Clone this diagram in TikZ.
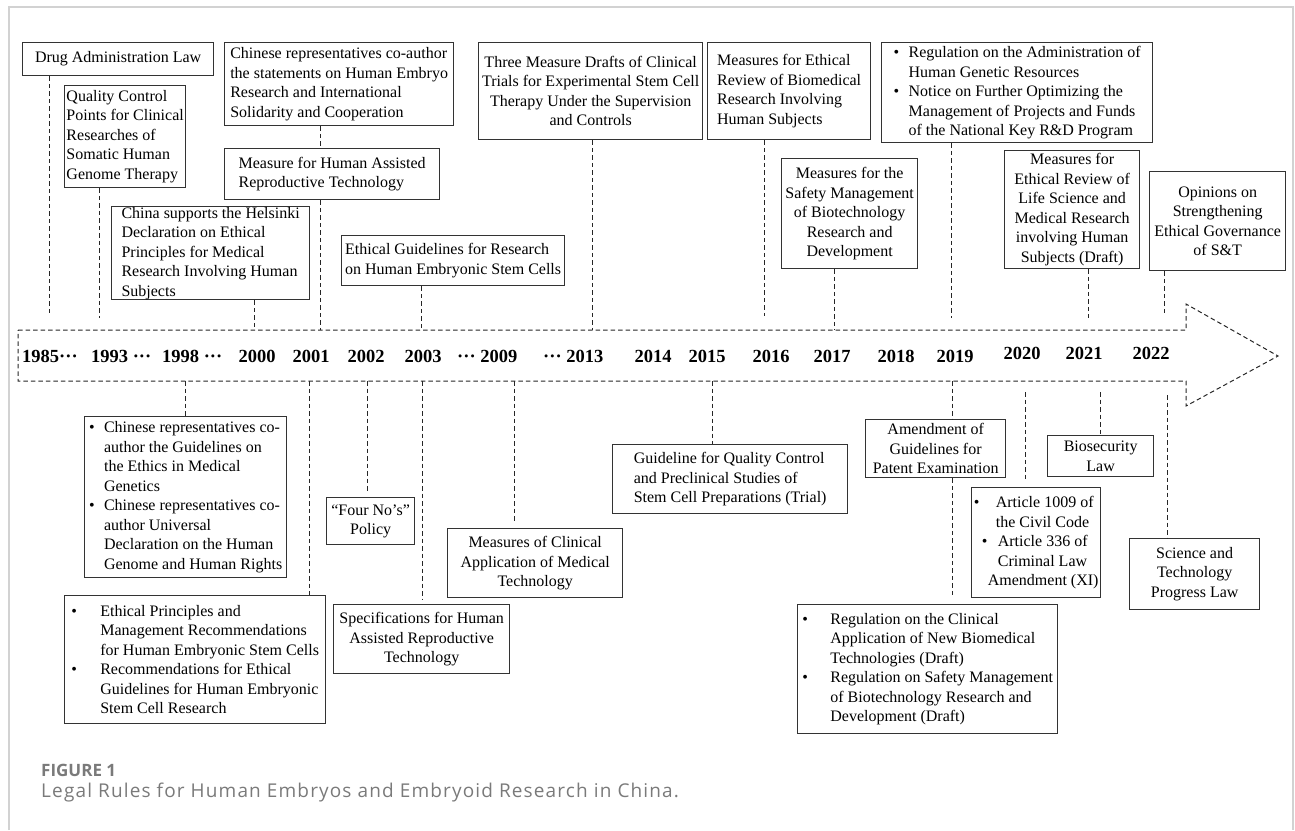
\documentclass[tikz,border=0pt]{standalone}
\usepackage{fontspec}
\setmainfont{Liberation Serif}
\newfontfamily\capfont{Open Sans}
\newfontfamily\capwidefont[LetterSpace=6]{Open Sans}
\definecolor{boxline}{HTML}{333333}
\definecolor{frameline}{HTML}{D2D2D2}
\definecolor{capgray}{HTML}{7A7A7A}
\newcommand{\bl}[1]{\makebox[#1][l]{\textbullet}}

\tikzset{
  box/.style={draw=boxline, line width=1.3pt, anchor=north west, inner sep=0pt,
    align=left, font=\fontsize{16}{19.5}\selectfont},
  cbox/.style={box, align=center},
  conn/.style={draw=black!85, line width=1pt, dash pattern=on 4.5pt off 3pt},
  year/.style={inner sep=0pt, font=\bfseries\fontsize{18.5}{20}\selectfont},
}

\begin{document}
\begin{tikzpicture}[x=1pt, y=-1pt]
    \useasboundingbox (0,0) rectangle (1295,830);
    \draw[frameline, line width=1.5pt] (9,830) -- (9,7) -- (1293,7) -- (1293,830);

    % Define timeline
    \draw[conn] (18,330) -- (1186,330) -- (1186,304) -- (1278,356)
        -- (1186,406) -- (1186,381) -- (18,381) -- cycle;
    \node[year, anchor=west] (y1985) at (22,356) {1985···};
    \node[year, anchor=west] (y1993) at (91,356) {1993 ···};
    \node[year, anchor=west] (y1998) at (162,356) {1998 ···};
    \node[year] (y2000) at (257,356) {2000};
    \node[year] (y2001) at (311,356) {2001};
    \node[year] (y2002) at (366,356) {2002};
    \node[year] (y2003) at (423,356) {2003};
    \node[year, anchor=west] (y2009) at (457,356) {··· 2009};
    \node[year, anchor=west] (y2013) at (543,356) {··· 2013};
    \node[year] (y2014) at (653,356) {2014};
    \node[year] (y2015) at (707,356) {2015};
    \node[year] (y2016) at (771,356) {2016};
    \node[year] (y2017) at (832,356) {2017};
    \node[year] (y2018) at (896,356) {2018};
    \node[year] (y2019) at (955,356) {2019};
    \node[year] (y2020) at (1022,353) {2020};
    \node[year] (y2021) at (1084,353) {2021};
    \node[year] (y2022) at (1151,353) {2022};

    % Define boxes above the timeline
    \node[box, minimum width=191pt, minimum height=33pt] (drug) at (22,42)
        {Drug Administration Law};
    \node[box, minimum width=121pt, minimum height=102pt] (qcp) at (64,85)
        {Quality Control\\Points for Clinical\\Researches of\\Somatic Human\\Genome Therapy};
    \node[box, minimum width=229pt, minimum height=83pt] (coauth) at (224,42)
        {Chinese representatives co-author\\the statements on Human Embryo\\Research and International\\Solidarity and Cooperation};
    \node[box, minimum width=215pt, minimum height=51pt] (art) at (224,148)
        {Measure for Human Assisted\\Reproductive Technology};
    \node[box, minimum width=198pt, minimum height=93pt] (helsinki) at (111,206)
        {China supports the Helsinki\\Declaration on Ethical\\Principles for Medical\\Research Involving Human\\Subjects};
    \node[box, minimum width=223pt, minimum height=50pt] (escg) at (341,235)
        {Ethical Guidelines for Research\\on Human Embryonic Stem Cells};
    \node[cbox, minimum width=224pt, minimum height=97pt] (threem) at (478,42)
        {Three Measure Drafts of Clinical\\Trials for Experimental Stem Cell\\Therapy Under the Supervision\\and Controls};
    \node[box, minimum width=163pt, minimum height=97pt] (biomed) at (707,42)
        {Measures for Ethical\\Review of Biomedical\\Research Involving\\Human Subjects};
    \node[cbox, minimum width=136pt, minimum height=110pt] (safety) at (781,158)
        {Measures for the\\Safety Management\\of Biotechnology\\Research and\\Development};
    \node[box, minimum width=271pt, minimum height=100pt] (hgr) at (881,42)
        {\bl{15pt}Regulation on the Administration of\\\hspace*{15pt}Human Genetic Resources\\\bl{15pt}Notice on Further Optimizing the\\\hspace*{15pt}Management of Projects and Funds\\\hspace*{15pt}of the National Key R\&D Program};
    \node[cbox, minimum width=135pt, minimum height=118pt] (lifesci) at (1004,150)
        {Measures for\\Ethical Review of\\Life Science and\\Medical Research\\involving Human\\Subjects (Draft)};
    \node[cbox, minimum width=136pt, minimum height=99pt] (opinions) at (1149,171)
        {Opinions on\\Strengthening\\Ethical Governance\\of S\&T};

    % Define boxes below the timeline
    \node[box, minimum width=202pt, minimum height=161pt] (genetics) at (84,416)
        {\bl{15pt}Chinese representatives co-\\\hspace*{15pt}author the Guidelines on\\\hspace*{15pt}the Ethics in Medical\\\hspace*{15pt}Genetics\\\bl{15pt}Chinese representatives co-\\\hspace*{15pt}author Universal\\\hspace*{15pt}Declaration on the Human\\\hspace*{15pt}Genome and Human Rights};
    \node[box, minimum width=261pt, minimum height=128pt] (hesc) at (64,595)
        {\bl{29pt}Ethical Principles and\\\hspace*{29pt}Management Recommendations\\\hspace*{29pt}for Human Embryonic Stem Cells\\\bl{29pt}Recommendations for Ethical\\\hspace*{29pt}Guidelines for Human Embryonic\\\hspace*{29pt}Stem Cell Research};
    \node[cbox, minimum width=88pt, minimum height=47pt] (fourno) at (326,497)
        {“Four No’s”\\Policy};
    \node[cbox, minimum width=176pt, minimum height=69pt] (spec) at (333,604)
        {Specifications for Human\\Assisted Reproductive\\Technology};
    \node[cbox, minimum width=175pt, minimum height=69pt] (clinapp) at (447,528)
        {Measures of Clinical\\Application of Medical\\Technology};
    \node[box, minimum width=235pt, minimum height=69pt] (quality) at (612,444)
        {Guideline for Quality Control\\and Preclinical Studies of\\Stem Cell Preparations (Trial)};
    \node[cbox, minimum width=140pt, minimum height=58pt] (patent) at (865,419)
        {Amendment of\\Guidelines for\\Patent Examination};
    \node[box, minimum width=129pt, minimum height=110pt] (civil) at (971,487)
        {\bl{22pt}Article 1009 of\\\hspace*{22pt}the Civil Code\\\hspace*{8pt}\bl{16pt}Article 336 of\\\hspace*{24pt}Criminal Law\\\hspace*{14pt}Amendment (XI)};
    \node[cbox, minimum width=106pt, minimum height=41pt] (biosec) at (1047,435)
        {Biosecurity\\Law};
    \node[cbox, minimum width=130pt, minimum height=71pt] (stlaw) at (1129,538)
        {Science and\\Technology\\Progress Law};
    \node[box, minimum width=260pt, minimum height=129pt] (newbio) at (797,604)
        {\bl{28pt}Regulation on the Clinical\\\hspace*{28pt}Application of New Biomedical\\\hspace*{28pt}Technologies (Draft)\\\bl{28pt}Regulation on Safety Management\\\hspace*{28pt}of Biotechnology Research and\\\hspace*{28pt}Development (Draft)};

    % Define tick points on the timeline
    \coordinate (c85) at (49,316);
    \coordinate (c93) at (99,318);
    \coordinate (c00) at (254,330);
    \coordinate (c01) at (320,330);
    \coordinate (c03) at (421,330);
    \coordinate (c13) at (592,330);
    \coordinate (c16) at (764,316);
    \coordinate (c17) at (834,330);
    \coordinate (c19) at (951,318);
    \coordinate (c21) at (1088,318);
    \coordinate (c22) at (1164,316);
    \coordinate (d98) at (185,381);
    \coordinate (d01) at (309,381);
    \coordinate (d02) at (367,381);
    \coordinate (d03) at (422,381);
    \coordinate (d09) at (514,381);
    \coordinate (d15) at (712,381);
    \coordinate (d19) at (952,381);
    \coordinate (d20) at (1025,392);
    \coordinate (d21) at (1100,392);
    \coordinate (d22) at (1167,395);

    % Define connectors
    \path[conn]
    (drug.south -| c85) edge (c85)
    (qcp.south -| c93) edge (c93)
    (coauth.south -| c01) edge (art.north -| c01)
        (art.south -| c01) edge (c01)
    (helsinki.south -| c00) edge (c00)
    (escg.south -| c03) edge (c03)
    (threem.south -| c13) edge (c13)
    (biomed.south -| c16) edge (c16)
    (safety.south -| c17) edge (c17)
    (hgr.south -| c19) edge (c19)
    (lifesci.south -| c21) edge (c21)
    (opinions.south -| c22) edge (c22)
    (d98) edge (genetics.north -| d98)
    (d01) edge (hesc.north -| d01)
    (d02) edge[shorten >=5pt] (fourno.north -| d02)
    (d03) edge[shorten >=5pt] (spec.north -| d03)
    (d09) edge[shorten >=5pt] (clinapp.north -| d09)
    (d15) edge (quality.north -| d15)
    (d19) edge (patent.north -| d19)
        (patent.south -| d19) edge[shorten >=6pt] (newbio.north -| d19)
    (d20) edge[shorten >=8pt] (civil.north -| d20)
    (d21) edge (biosec.north -| d21)
    (d22) edge (stlaw.north -| d22);

    % Caption
    \node[anchor=west, inner sep=0pt, text=capgray, font=\capfont\bfseries\fontsize{17}{20}\selectfont] (figno) at (41,770) {FIGURE 1};
    \node[anchor=west, inner sep=0pt, text=capgray, font=\capwidefont\fontsize{19}{22}\selectfont] (figcap) at (41,793) {Legal Rules for Human Embryos and Embryoid Research in China.};
\end{tikzpicture}
\end{document}
